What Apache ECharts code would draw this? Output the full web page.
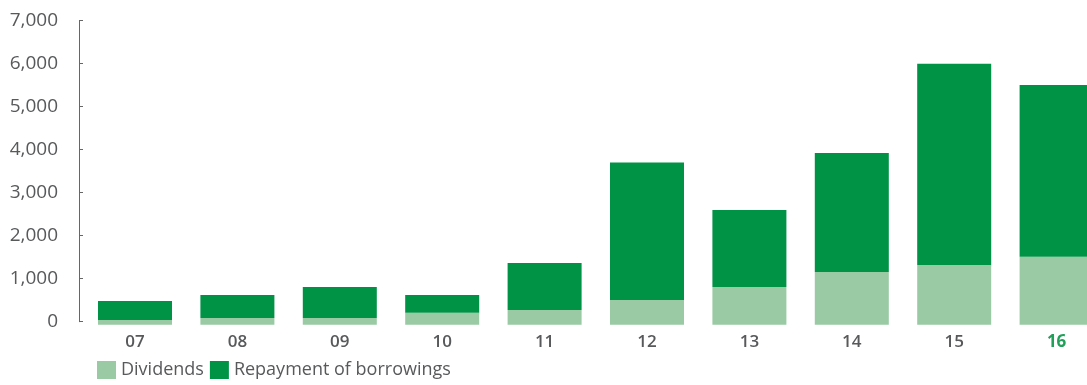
<!DOCTYPE html>
<html>
<head>
<meta charset="utf-8">
<script src="https://cdn.jsdelivr.net/npm/echarts@6/dist/echarts.min.js"></script>
<style>
html,body{margin:0;padding:0;background:#fff;}
#c{width:1087px;height:385px;}
</style>
</head>
<body>
<div id="c"></div>
<script>
const categories = ['07','08','09','10','11','12','13','14','15','16'];
const dividends = [40, 85, 85, 210, 270, 505, 805, 1155, 1320, 1510];
const repayment = [440, 535, 720, 410, 1095, 3195, 1795, 2770, 4680, 3995];
const yTicks = [0, 1000, 2000, 3000, 4000, 5000, 6000, 7000];

const TEXT = '#58595b';
const FONT = '"Open Sans", "Noto Sans", sans-serif';
const chart = echarts.init(document.getElementById('c'), null, {renderer: 'canvas'});
chart.setOption({
  animation: false,
  backgroundColor: '#fff',
  textStyle: {fontFamily: FONT},
  legend: {
    left: 97, top: 361, padding: 0,
    itemWidth: 19, itemHeight: 18, itemGap: 6,
    icon: 'rect',
    textStyle: {fontSize: 18, color: TEXT, fontFamily: FONT},
    data: ['Dividends', 'Repayment of borrowings']
  },
  grid: [
    {left: 79, top: 20.7, height: 301, width: 10, outerBoundsMode: 'none'},
    {left: 83.8, top: 20.7, height: 304, width: 1024, outerBoundsMode: 'none'}
  ],
  xAxis: [
    {gridIndex: 0, type: 'category', show: false, data: ['']},
    {gridIndex: 1, type: 'category', data: categories,
     axisLine: {show: false, onZero: false}, axisTick: {show: false},
     axisLabel: {margin: 9, fontSize: 17, fontWeight: 600, color: TEXT, fontFamily: FONT,
       formatter: function (v, i) { return i === categories.length - 1 ? '{hi|' + v + '}' : v; },
       rich: {hi: {fontSize: 17, fontWeight: 700, color: '#22a05a', fontFamily: FONT}}}}
  ],
  yAxis: [
    {gridIndex: 0, type: 'value', min: yTicks[0], max: yTicks[yTicks.length - 1], interval: 1000,
     axisLine: {show: true, lineStyle: {color: '#666', width: 1}},
     axisTick: {show: true, inside: true, length: 4, lineStyle: {color: '#666'}},
     splitLine: {show: false},
     axisLabel: {margin: 21, fontSize: 19, color: TEXT, fontFamily: FONT,
       formatter: function (v) { return v.toLocaleString('en-US'); }}},
    {gridIndex: 1, type: 'value', min: -70, max: 7000, startValue: -70, show: false, splitLine: {show: false}}
  ],
  series: [
    {name: 'Dividends', type: 'bar', stack: 'a', xAxisIndex: 1, yAxisIndex: 1,
     barWidth: 74, data: dividends, itemStyle: {color: '#99caa4'}},
    {name: 'Repayment of borrowings', type: 'bar', stack: 'a', xAxisIndex: 1, yAxisIndex: 1,
     barWidth: 74, data: repayment, itemStyle: {color: '#009245'}}
  ]
});
</script>
</body>
</html>
